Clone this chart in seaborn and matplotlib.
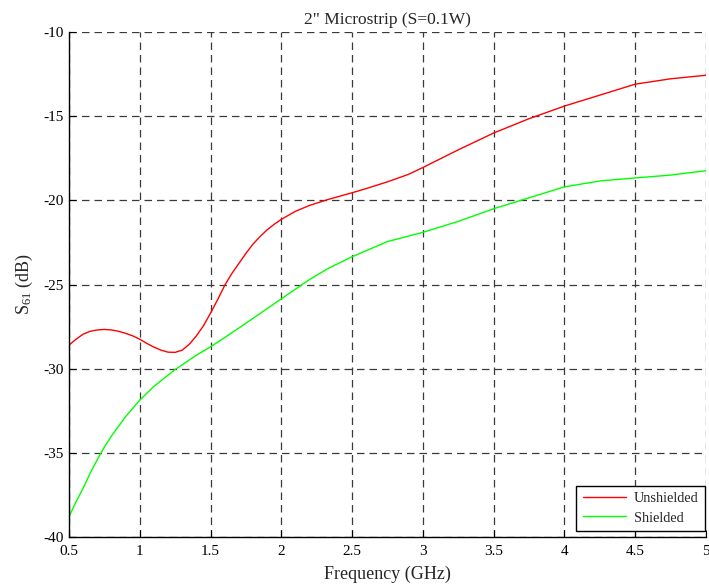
import matplotlib
matplotlib.use("Agg")
import matplotlib.pyplot as plt
import seaborn as sns
import pandas as pd

# ---- data ----
freq_unshielded = [0.5, 0.55, 0.6, 0.65, 0.7, 0.75, 0.8, 0.85, 0.9, 0.95, 1.0, 1.05, 1.1,
                   1.15, 1.2, 1.25, 1.3, 1.35, 1.4, 1.45, 1.5, 1.55, 1.6, 1.65, 1.7, 1.75,
                   1.8, 1.85, 1.9, 1.95, 2.0, 2.1, 2.2, 2.33, 2.5, 2.6, 2.75, 2.9, 3.0,
                   3.25, 3.5, 3.75, 4.0, 4.25, 4.5, 4.75, 5.0]
s61_unshielded = [-28.6, -28.25, -27.95, -27.78, -27.7, -27.67, -27.7, -27.78, -27.9,
                  -28.05, -28.25, -28.5, -28.72, -28.9, -29.02, -29.03, -28.9, -28.55,
                  -28.05, -27.45, -26.7, -25.9, -25.05, -24.35, -23.75, -23.15, -22.6,
                  -22.15, -21.75, -21.42, -21.13, -20.65, -20.3, -19.95, -19.55, -19.3,
                  -18.9, -18.45, -18.05, -17.0, -16.0, -15.15, -14.4, -13.75, -13.1,
                  -12.78, -12.57]

freq_shielded = [0.5, 0.55, 0.6, 0.65, 0.7, 0.75, 0.8, 0.9, 1.0, 1.1, 1.25, 1.4, 1.5, 1.6,
                 1.75, 2.0, 2.2, 2.33, 2.5, 2.75, 3.0, 3.25, 3.5, 3.75, 4.0, 4.25, 4.5,
                 4.75, 5.0]
s61_shielded = [-38.8, -37.9, -37.1, -36.2, -35.4, -34.65, -34.0, -32.85, -31.87, -31.05,
                -30.05, -29.2, -28.7, -28.15, -27.3, -25.85, -24.7, -24.05, -23.35,
                -22.45, -21.9, -21.25, -20.5, -19.85, -19.2, -18.85, -18.67, -18.5,
                -18.24]

x_ticks = [0.5, 1, 1.5, 2, 2.5, 3, 3.5, 4, 4.5, 5]
x_tick_labels = ["0.5", "1", "1.5", "2", "2.5", "3", "3.5", "4", "4.5", "5"]
y_ticks = [-40, -35, -30, -25, -20, -15, -10]
y_tick_labels = ["-40", "-35", "-30", "-25", "-20", "-15", "-10"]

title = '2" Microstrip (S=0.1W)'
xlabel = "Frequency (GHz)"
ylabel = r"S$_{\mathrm{61}}$ (dB)"
series_names = ["Unshielded", "Shielded"]

# ---- style ----
sns.set_theme(style="white")
plt.rcParams["font.family"] = ["Liberation Serif", "DejaVu Serif"]
plt.rcParams["mathtext.fontset"] = "custom"
plt.rcParams["mathtext.rm"] = "Liberation Serif"
plt.rcParams["mathtext.it"] = "Liberation Serif:italic"

fig = plt.figure(figsize=(7.09, 5.85), dpi=100)
ax = fig.add_axes([69 / 709, 1 - 537 / 585, (706 - 69) / 709, (537 - 32) / 585])

df_u = pd.DataFrame({"f": freq_unshielded, "s": s61_unshielded})
df_s = pd.DataFrame({"f": freq_shielded, "s": s61_shielded})
sns.lineplot(data=df_u, x="f", y="s", color=(1, 0, 0), lw=1.0, ax=ax,
             label=series_names[0], estimator=None, sort=False)
sns.lineplot(data=df_s, x="f", y="s", color=(0, 1, 0), lw=1.0, ax=ax,
             label=series_names[1], estimator=None, sort=False)

ax.set_xlim(0.5, 5)
ax.set_ylim(-40, -10)
ax.set_xticks(x_ticks)
ax.set_xticklabels(x_tick_labels)
ax.set_yticks(y_ticks)
ax.set_yticklabels(y_tick_labels)

ax.grid(True, color="#3a3a3a", linestyle=(0, (6, 4)), linewidth=0.9)
ax.set_axisbelow(True)

for side in ["top", "right"]:
    ax.spines[side].set_visible(False)
for side in ["left", "bottom"]:
    ax.spines[side].set_color("black")
    ax.spines[side].set_linewidth(1.0)

ax.tick_params(direction="in", length=5, width=0.8, colors="black",
               labelsize=11, left=True, bottom=True)
ax.tick_params(axis="x", pad=5.5)
ax.tick_params(axis="y", pad=4)

ax.set_title(title, fontsize=12.5, pad=6)
ax.set_xlabel(xlabel, fontsize=13, labelpad=6)
ax.set_ylabel(ylabel, fontsize=13, labelpad=6)

leg = ax.legend(loc="lower right", bbox_to_anchor=(0.999, 0.012), fontsize=10.3,
                frameon=True, fancybox=False, framealpha=1, edgecolor="black",
                borderaxespad=0, handlelength=3.0, borderpad=0.45, labelspacing=0.45,
                handletextpad=0.6)
leg.get_frame().set_linewidth(1.0)

fig.savefig("out.png", dpi=100)
